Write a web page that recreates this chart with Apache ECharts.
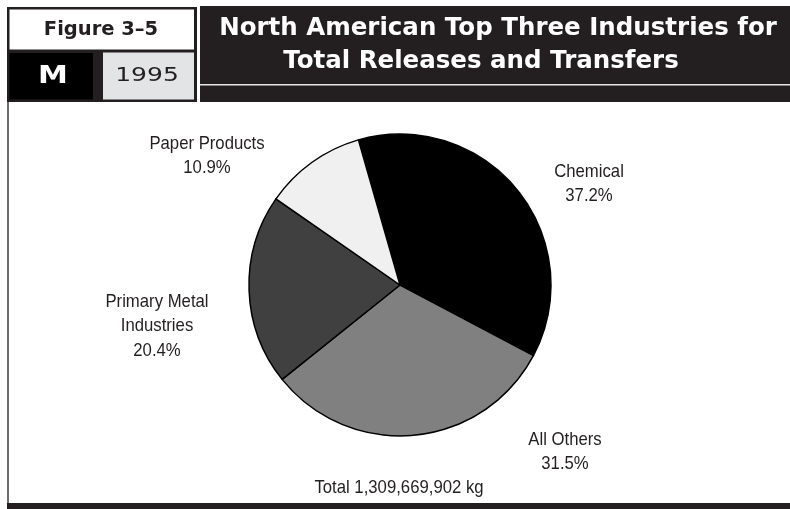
<!DOCTYPE html>
<html>
<head>
<meta charset="utf-8">
<script src="https://cdn.jsdelivr.net/npm/echarts@6/dist/echarts.min.js"></script>
<style>
  html, body { margin: 0; padding: 0; background: #ffffff; }
  #chart { width: 790px; height: 509px; }
</style>
</head>
<body>
<div id="chart"></div>
<script>
// Share of 1995 total releases and transfers, clockwise from the top
const industries = ['Chemical', 'All Others', 'Primary Metal\nIndustries', 'Paper Products'];
const shares = [37.2, 31.5, 20.4, 10.9];
const sliceColors = ['#000000', '#808080', '#404040', '#f0f0f0'];
const totalText = 'Total 1,309,669,902 kg';
const figureNo = 'Figure 3–5';
const mediumCode = 'M';
const yearText = '1995';
const titleLines = ['North American Top Three Industries for', 'Total Releases and Transfers'];

// label anchor points (centre of each label block), by slice
const labelSpots = [[589, 184], [565, 452], [157, 326], [207, 156]];

const INK = '#231f20';
// narrow sans look: regular face squeezed horizontally
const NARROW = 0.88;
const LABEL_FONT = '19px "Liberation Sans", Arimo, Arial, sans-serif';

const chart = echarts.init(document.getElementById('chart'), null, { renderer: 'canvas' });

const sliceLabels = industries.map((name, i) => ({
  type: 'text',
  x: labelSpots[i][0],
  y: labelSpots[i][1],
  scaleX: NARROW,
  z: 5,
  silent: true,
  style: {
    text: name + '\n' + shares[i].toFixed(1) + '%',
    fill: INK,
    font: LABEL_FONT,
    lineHeight: 24.5,
    textAlign: 'center',
    textVerticalAlign: 'middle'
  }
}));

const option = {
  backgroundColor: '#ffffff',
  animation: false,
  graphic: [
    // left figure box
    { type: 'rect', shape: { x: 7, y: 7, width: 190, height: 95 }, style: { fill: INK }, z: 1 },
    { type: 'rect', shape: { x: 9.5, y: 9.5, width: 184.5, height: 40 }, style: { fill: '#ffffff' }, z: 2 },
    { type: 'rect', shape: { x: 9.5, y: 53, width: 83.5, height: 46.5 }, style: { fill: '#000000' }, z: 2 },
    { type: 'rect', shape: { x: 103, y: 52.5, width: 91, height: 47 }, style: { fill: '#e3e4e5' }, z: 2 },
    {
      type: 'text', x: 101, y: 30, z: 3,
      style: { text: figureNo, fill: INK, font: 'bold 19.5px "DejaVu Sans"', textAlign: 'center', textVerticalAlign: 'middle' }
    },
    {
      type: 'text', x: 53, y: 77, scaleX: 1.25, z: 3,
      style: { text: mediumCode, fill: '#ffffff', font: 'bold 24px "DejaVu Sans"', textAlign: 'center', textVerticalAlign: 'middle' }
    },
    {
      type: 'text', x: 147, y: 76, scaleX: 1.25, z: 3,
      style: { text: yearText, fill: INK, font: '20px "DejaVu Sans"', textAlign: 'center', textVerticalAlign: 'middle' }
    },
    // title block
    { type: 'rect', shape: { x: 200, y: 6, width: 590, height: 96 }, style: { fill: INK }, z: 1 },
    { type: 'rect', shape: { x: 200, y: 84, width: 590, height: 1.6 }, style: { fill: '#e6e6e6' }, z: 2 },
    {
      type: 'text', x: 498, y: 28.5, z: 3,
      style: { text: titleLines[0], fill: '#ffffff', font: 'bold 24.5px "DejaVu Sans"', textAlign: 'center', textVerticalAlign: 'middle' }
    },
    {
      type: 'text', x: 481, y: 61.5, z: 3,
      style: { text: titleLines[1], fill: '#ffffff', font: 'bold 24.5px "DejaVu Sans"', textAlign: 'center', textVerticalAlign: 'middle' }
    },
    // frame of the plot area
    { type: 'rect', shape: { x: 7, y: 102, width: 2, height: 401 }, style: { fill: '#6e6e6e' }, z: 1 },
    { type: 'rect', shape: { x: 7, y: 503, width: 783, height: 6 }, style: { fill: INK }, z: 1 },
    {
      type: 'text', x: 399, y: 488, scaleX: NARROW, z: 3,
      style: { text: totalText, fill: INK, font: LABEL_FONT, textAlign: 'center', textVerticalAlign: 'middle' }
    }
  ].concat(sliceLabels),
  series: [{
    type: 'pie',
    center: [400, 285],
    radius: [0, 151],
    startAngle: 106,
    clockwise: true,
    silent: true,
    itemStyle: { borderColor: '#000000', borderWidth: 1.5 },
    label: { show: false },
    labelLine: { show: false },
    data: industries.map((name, i) => ({
      name: name,
      value: shares[i],
      itemStyle: { color: sliceColors[i] }
    }))
  }]
};

chart.setOption(option);
</script>
</body>
</html>
